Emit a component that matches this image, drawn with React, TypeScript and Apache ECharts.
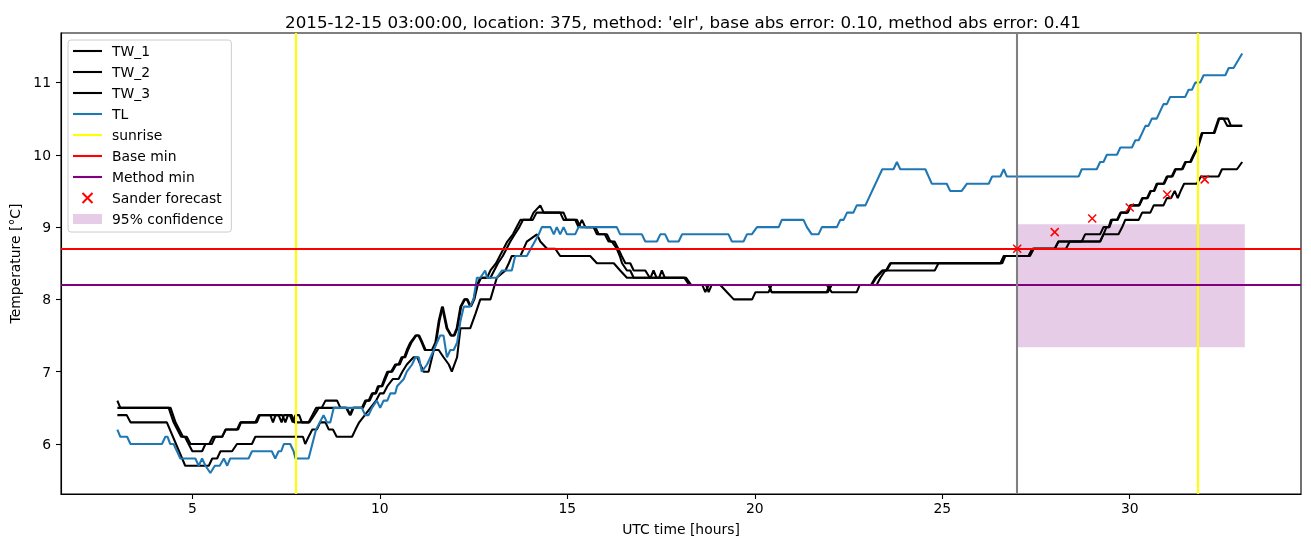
import React, { useEffect, useRef } from "react";
import * as echarts from "echarts";

const TITLE =
  "2015-12-15 03:00:00, location: 375, method: 'elr', base abs error: 0.10, method abs error: 0.41";
const X_NAME = "UTC time [hours]";
const Y_NAME = "Temperature [°C]";

const xTicks = [5, 10, 15, 20, 25, 30];
const yTicks = [6, 7, 8, 9, 10, 11];

// [hour, temperature] points
const tw1: number[][] = [
  [3.0,6.6],[3.08,6.5],[4.37,6.5],[4.5,6.3],[4.6,6.2],[4.7,6.1],[4.8,6.1],[4.9,6.0],[5.0,5.9],[5.26,5.9],[5.35,6.0],[5.45,6.0],[5.55,6.1],[5.8,6.1],[5.88,6.2],[6.19,6.2],[6.28,6.3],[6.68,6.3],[6.77,6.4],[7.08,6.4],[7.15,6.3],[7.22,6.4],[7.4,6.4],[7.48,6.3],[7.55,6.4],[7.65,6.4],[7.72,6.3],[8.1,6.3],[8.2,6.4],[8.3,6.5],[8.45,6.5],[8.55,6.6],[8.86,6.6],[8.95,6.5],[9.12,6.5],[9.22,6.4],[9.3,6.5],[9.52,6.5],[9.61,6.6],[9.7,6.6],[9.79,6.7],[9.88,6.7],[9.95,6.8],[10.05,6.8],[10.12,6.9],[10.2,7.0],[10.3,7.0],[10.41,7.1],[10.5,7.1],[10.58,7.2],[10.65,7.2],[10.72,7.3],[10.81,7.4],[10.95,7.5],[11.03,7.5],[11.12,7.4],[11.2,7.3],[11.39,7.3],[11.48,7.4],[11.57,7.7],[11.66,7.9],[11.78,7.6],[11.89,7.5],[11.97,7.5],[12.05,7.6],[12.15,7.9],[12.25,8.0],[12.32,8.0],[12.41,7.9],[12.5,8.0],[12.59,8.2],[12.68,8.3],[12.86,8.3],[12.95,8.4],[13.1,8.5],[13.2,8.6],[13.3,8.7],[13.4,8.8],[13.55,8.9],[13.65,9.0],[13.75,9.1],[14.01,9.1],[14.1,9.2],[14.28,9.3],[14.37,9.2],[14.81,9.2],[14.9,9.1],[15.21,9.1],[15.3,9.0],[15.39,9.1],[15.48,9.0],[15.7,9.0],[15.79,8.9],[16.0,8.9],[16.1,8.8],[16.19,8.8],[16.32,8.7],[16.4,8.6],[16.46,8.5],[16.59,8.4],[16.68,8.4],[16.77,8.3],[17.22,8.3],[17.3,8.4],[17.38,8.3],[18.15,8.3],[18.28,8.2],[18.6,8.2],[18.68,8.1],[18.77,8.2],[20.37,8.2],[20.45,8.1],[21.92,8.1],[22.0,8.2],[23.1,8.2],[23.21,8.3],[23.4,8.4],[23.5,8.4],[23.61,8.5],[26.55,8.5],[26.64,8.6],[27.3,8.6],[27.4,8.7],[28.0,8.7],[28.1,8.8],[28.72,8.8],[28.81,8.9],[29.21,8.9],[29.3,9.0],[29.44,9.0],[29.5,9.1],[29.66,9.1],[29.75,9.2],[29.92,9.2],[30.01,9.3],[30.24,9.3],[30.33,9.4],[30.46,9.4],[30.55,9.5],[30.64,9.5],[30.72,9.6],[30.9,9.6],[30.99,9.7],[31.12,9.7],[31.21,9.8],[31.39,9.8],[31.48,9.9],[31.61,9.9],[31.7,10.0],[31.8,10.1],[31.92,10.3],[32.24,10.3],[32.37,10.5],[32.5,10.5],[32.6,10.4],[33.0,10.4]
];

const tw2: number[][] = [
  [3.0,6.5],[4.42,6.5],[4.55,6.3],[4.65,6.2],[4.75,6.1],[4.85,6.1],[4.95,6.0],[5.52,6.0],[5.61,6.1],[5.79,6.1],[5.9,6.2],[6.22,6.2],[6.3,6.3],[6.72,6.3],[6.8,6.4],[7.3,6.4],[7.38,6.3],[7.44,6.4],[7.6,6.4],[7.68,6.3],[7.75,6.4],[7.85,6.4],[7.92,6.3],[8.12,6.3],[8.25,6.4],[8.37,6.5],[9.1,6.5],[9.2,6.4],[9.28,6.5],[9.55,6.5],[9.64,6.6],[9.73,6.6],[9.82,6.7],[9.9,6.7],[9.98,6.8],[10.07,6.8],[10.15,6.9],[10.23,7.0],[10.33,7.0],[10.44,7.1],[10.53,7.1],[10.61,7.2],[10.68,7.2],[10.75,7.3],[10.84,7.4],[10.97,7.5],[11.05,7.5],[11.14,7.4],[11.22,7.3],[11.41,7.3],[11.5,7.4],[11.59,7.7],[11.68,7.9],[11.8,7.6],[11.91,7.5],[11.99,7.5],[12.07,7.6],[12.17,7.9],[12.27,8.0],[12.34,8.0],[12.43,7.9],[12.52,8.0],[12.61,8.2],[12.7,8.3],[12.95,8.3],[13.05,8.4],[13.15,8.5],[13.28,8.6],[13.38,8.7],[13.48,8.8],[13.6,8.9],[13.72,9.0],[13.82,9.1],[14.08,9.1],[14.18,9.2],[14.9,9.2],[14.98,9.1],[15.26,9.1],[15.35,9.0],[15.75,9.0],[15.84,8.9],[16.06,8.9],[16.15,8.8],[16.26,8.8],[16.36,8.7],[16.45,8.6],[16.55,8.5],[16.68,8.5],[16.77,8.4],[17.08,8.4],[17.2,8.3],[17.45,8.3],[17.52,8.4],[17.6,8.3],[18.17,8.3],[18.3,8.2],[18.7,8.2],[18.77,8.1],[18.85,8.2],[20.37,8.2],[20.45,8.1],[21.95,8.1],[22.05,8.2],[23.12,8.2],[23.24,8.3],[23.42,8.4],[23.52,8.4],[23.63,8.5],[26.57,8.5],[26.66,8.6],[27.34,8.6],[27.44,8.7],[28.3,8.7],[28.4,8.8],[29.21,8.8],[29.3,8.9],[29.38,9.0],[29.46,9.0],[29.53,9.1],[29.68,9.1],[29.77,9.2],[29.95,9.2],[30.04,9.3],[30.26,9.3],[30.35,9.4],[30.48,9.4],[30.57,9.5],[30.66,9.5],[30.74,9.6],[30.92,9.6],[31.01,9.7],[31.14,9.7],[31.23,9.8],[31.41,9.8],[31.5,9.9],[31.63,9.9],[31.72,10.0],[31.82,10.1],[31.94,10.3],[32.26,10.3],[32.39,10.5],[32.62,10.5],[32.7,10.4],[33.0,10.4]
];

const tw3: number[][] = [
  [3.0,6.4],[3.25,6.4],[3.35,6.3],[4.32,6.3],[4.81,5.7],[5.44,5.7],[5.53,5.8],[5.66,5.8],[5.75,5.9],[6.06,5.9],[6.19,6.0],[6.59,6.0],[6.68,6.1],[7.95,6.1],[8.01,6.0],[8.1,6.1],[8.2,6.2],[8.32,6.2],[8.41,6.3],[8.55,6.3],[8.64,6.2],[8.75,6.2],[8.85,6.1],[9.26,6.1],[9.35,6.2],[9.45,6.3],[9.6,6.4],[9.75,6.5],[9.9,6.6],[10.0,6.7],[10.1,6.7],[10.2,6.8],[10.35,6.9],[10.5,6.9],[10.6,7.0],[10.72,7.1],[10.9,7.2],[11.0,7.2],[11.08,7.1],[11.17,7.0],[11.3,7.0],[11.44,7.3],[11.57,7.3],[11.7,7.2],[11.84,7.1],[11.92,7.0],[12.06,7.2],[12.15,7.6],[12.41,7.6],[12.55,7.8],[12.68,8.0],[12.95,8.0],[13.12,8.3],[13.35,8.4],[13.44,8.5],[13.52,8.6],[13.75,8.6],[13.92,8.8],[14.19,8.9],[14.28,8.8],[14.46,8.7],[14.68,8.7],[14.81,8.6],[15.61,8.6],[15.79,8.5],[16.24,8.5],[16.41,8.4],[16.59,8.3],[18.12,8.3],[18.25,8.2],[19.08,8.2],[19.26,8.1],[19.44,8.0],[19.93,8.0],[20.02,8.1],[20.37,8.1],[20.45,8.2],[21.92,8.2],[22.05,8.1],[22.72,8.1],[22.8,8.2],[23.25,8.2],[23.35,8.3],[23.48,8.4],[24.8,8.4],[24.9,8.5],[26.6,8.5],[26.68,8.6],[27.3,8.6],[27.43,8.7],[28.0,8.7],[28.1,8.8],[29.21,8.8],[29.3,8.9],[29.7,8.9],[29.8,9.0],[29.88,9.1],[30.24,9.1],[30.33,9.2],[30.55,9.2],[30.64,9.3],[30.9,9.3],[30.99,9.4],[31.1,9.4],[31.2,9.5],[31.28,9.4],[31.36,9.5],[31.45,9.6],[31.79,9.6],[31.9,9.7],[32.37,9.7],[32.46,9.8],[32.86,9.8],[33.0,9.9]
];

const tl: number[][] = [
  [3.0,6.2],[3.08,6.1],[3.26,6.1],[3.35,6.0],[4.19,6.0],[4.28,6.1],[4.34,6.1],[4.41,6.0],[4.5,6.0],[4.59,5.9],[4.68,5.8],[5.08,5.8],[5.17,5.7],[5.26,5.8],[5.35,5.7],[5.48,5.6],[5.6,5.7],[5.73,5.7],[5.84,5.8],[5.93,5.7],[6.01,5.8],[6.5,5.8],[6.59,5.9],[7.12,5.9],[7.21,5.8],[7.3,5.9],[7.37,5.9],[7.44,6.0],[7.61,6.0],[7.7,5.9],[7.75,5.8],[8.1,5.8],[8.2,6.0],[8.3,6.2],[8.5,6.4],[8.59,6.3],[8.68,6.3],[8.77,6.5],[9.52,6.5],[9.61,6.4],[9.7,6.4],[9.79,6.5],[9.92,6.6],[10.01,6.5],[10.1,6.6],[10.2,6.6],[10.28,6.7],[10.41,6.7],[10.46,6.8],[10.64,6.9],[10.72,7.0],[10.86,7.1],[10.95,7.2],[11.04,7.2],[11.12,7.0],[11.26,7.1],[11.35,7.2],[11.44,7.3],[11.52,7.4],[11.61,7.5],[11.7,7.5],[11.79,7.2],[11.88,7.3],[11.97,7.3],[12.06,7.4],[12.15,7.7],[12.24,7.9],[12.41,7.9],[12.5,8.0],[12.59,8.3],[12.68,8.3],[12.81,8.4],[12.86,8.3],[13.12,8.3],[13.26,8.4],[13.52,8.4],[13.61,8.6],[13.92,8.6],[14.24,8.9],[14.32,9.0],[14.55,9.0],[14.64,8.9],[14.72,9.0],[14.81,8.9],[14.9,9.0],[14.99,8.9],[15.21,8.9],[15.3,9.0],[16.32,9.0],[16.41,8.9],[16.99,8.9],[17.08,8.8],[17.39,8.8],[17.48,8.9],[17.61,8.9],[17.7,8.8],[17.97,8.8],[18.06,8.9],[19.3,8.9],[19.39,8.8],[19.7,8.8],[19.79,8.9],[19.92,8.9],[20.06,9.0],[20.64,9.0],[20.72,9.1],[21.3,9.1],[21.39,9.0],[21.52,8.9],[21.7,8.9],[21.79,9.0],[22.19,9.0],[22.28,9.1],[22.37,9.1],[22.46,9.2],[22.63,9.2],[22.72,9.3],[22.95,9.3],[23.4,9.8],[23.7,9.8],[23.79,9.9],[23.88,9.8],[24.55,9.8],[24.72,9.6],[25.12,9.6],[25.21,9.5],[25.52,9.5],[25.66,9.6],[26.24,9.6],[26.33,9.7],[26.55,9.7],[26.64,9.8],[26.72,9.7],[28.64,9.7],[28.72,9.8],[29.12,9.8],[29.21,9.9],[29.3,9.9],[29.39,10.0],[29.66,10.0],[29.75,10.1],[30.06,10.1],[30.15,10.2],[30.24,10.2],[30.33,10.3],[30.42,10.4],[30.5,10.4],[30.59,10.5],[30.72,10.5],[30.81,10.6],[30.9,10.7],[30.99,10.7],[31.08,10.8],[31.48,10.8],[31.57,10.9],[31.66,10.9],[31.75,11.0],[31.88,11.0],[31.97,11.1],[32.55,11.1],[32.64,11.2],[32.77,11.2],[33.0,11.4]
];

const sunriseHours = [7.77, 31.82];
const forecastStart = 27.0;
const baseMin = 8.7;
const methodMin = 8.2;
const forecastHours = [27, 28, 29, 30, 31, 32];
const forecastValues = [8.7, 8.93, 9.12, 9.27, 9.45, 9.66];
const confHours = [27.0, 33.07];
const confTemps = [7.34, 9.04];

const FONT = "DejaVu Sans";
const X_MARK = "path://M0,0L10,10M10,0L0,10";
const LINE_ICON = "path://M0,0L29,0L29,2.1L0,2.1Z";
const LW = 2.08;

export default function App() {
  const ref = useRef<HTMLDivElement>(null);

  useEffect(() => {
    if (!ref.current) return;
    const chart = echarts.init(ref.current, null, { renderer: "svg" });

    const line = (name: string, data: number[][], color: string) => ({
      type: "line",
      name,
      data,
      symbol: "none",
      showSymbol: false,
      color,
      lineStyle: { color, width: LW },
      itemStyle: { color },
      silent: true,
      z: 2,
    });

    const refLine = (name: string, color: string, data: any[]) => ({
      type: "line",
      name,
      data: [],
      symbol: "none",
      color,
      lineStyle: { color, width: LW },
      itemStyle: { color },
      z: 3,
      markLine: {
        silent: true,
        symbol: ["none", "none"],
        label: { show: false },
        lineStyle: { color, width: LW, type: "solid" },
        data,
        z: 3,
      },
    });

    const textStyle = { fontFamily: FONT, fontSize: 13.9, color: "#000" };

    chart.setOption({
      animation: false,
      title: {
        text: TITLE,
        left: 678,
        top: 8,
        textAlign: "center",
        textStyle: { fontFamily: FONT, fontSize: 16.7, fontWeight: "normal", color: "#000" },
      },
      grid: {
        left: 61,
        right: 10,
        top: 33,
        bottom: 53,
        show: true,
        borderColor: "#000",
        borderWidth: 1.1,
        backgroundColor: "transparent",
      },
      legend: {
        orient: "vertical",
        left: 68,
        top: 40,
        itemWidth: 29,
        itemHeight: 10,
        itemGap: 7,
        symbolKeepAspect: true,
        padding: [4, 8, 6, 5],
        backgroundColor: "rgba(255,255,255,0.8)",
        borderColor: "#cccccc",
        borderWidth: 1,
        borderRadius: 3,
        selectedMode: false,
        textStyle: { ...textStyle, padding: [0, 0, 0, 5] },
        data: [
          { name: "TW_1", icon: LINE_ICON },
          { name: "TW_2", icon: LINE_ICON },
          { name: "TW_3", icon: LINE_ICON },
          { name: "TL", icon: LINE_ICON },
          { name: "sunrise", icon: LINE_ICON },
          { name: "Base min", icon: LINE_ICON },
          { name: "Method min", icon: LINE_ICON },
          { name: "Sander forecast", icon: X_MARK },
          { name: "95% confidence", icon: "rect" },
        ],
      },
      xAxis: {
        type: "value",
        min: 1.497,
        max: 34.568,
        name: X_NAME,
        nameLocation: "middle",
        nameGap: 28,
        nameTextStyle: textStyle,
        axisLine: { show: true, onZero: false, lineStyle: { color: "#000", width: 1.1 } },
        axisTick: { show: true, length: 5, customValues: xTicks, lineStyle: { color: "#000", width: 1.1 } },
        axisLabel: { customValues: xTicks, margin: 7, ...textStyle },
        splitLine: { show: false },
      },
      yAxis: {
        type: "value",
        min: 5.309,
        max: 11.684,
        name: Y_NAME,
        nameLocation: "middle",
        nameGap: 36,
        nameTextStyle: textStyle,
        axisLine: { show: true, onZero: false, lineStyle: { color: "#000", width: 1.1 } },
        axisTick: { show: true, length: 5, customValues: yTicks, lineStyle: { color: "#000", width: 1.1 } },
        axisLabel: { customValues: yTicks, margin: 10, ...textStyle },
        splitLine: { show: false },
      },
      series: [
        {
          type: "line",
          name: "95% confidence",
          data: [],
          symbol: "none",
          color: "rgba(128,0,128,0.2)",
          itemStyle: { color: "rgba(128,0,128,0.2)" },
          z: 1,
          markArea: {
            silent: true,
            itemStyle: { color: "rgba(128,0,128,0.2)" },
            data: [[{ coord: [confHours[0], confTemps[0]] }, { coord: [confHours[1], confTemps[1]] }]],
          },
        },
        line("TW_1", tw1, "#000000"),
        line("TW_2", tw2, "#000000"),
        line("TW_3", tw3, "#000000"),
        line("TL", tl, "#1f77b4"),
        refLine("sunrise", "#ffff00", sunriseHours.map((h) => ({ xAxis: h }))),
        refLine("Base min", "#ff0000", [{ yAxis: baseMin }]),
        refLine("Method min", "#800080", [{ yAxis: methodMin }]),
        refLine("forecast start", "#808080", [{ xAxis: forecastStart }]),
        {
          type: "scatter",
          name: "Sander forecast",
          data: forecastHours.map((h, i) => [h, forecastValues[i]]),
          symbol: X_MARK,
          symbolSize: 8,
          symbolKeepAspect: true,
          itemStyle: { color: "rgba(0,0,0,0)", borderColor: "#ff0000", borderWidth: 1.5, opacity: 1 },
          silent: true,
          z: 6,
        },
      ],
    });

    return () => chart.dispose();
  }, []);

  return (
    <div
      ref={ref}
      style={{ position: "fixed", left: 0, top: 0, width: 1311, height: 547 }}
    />
  );
}
